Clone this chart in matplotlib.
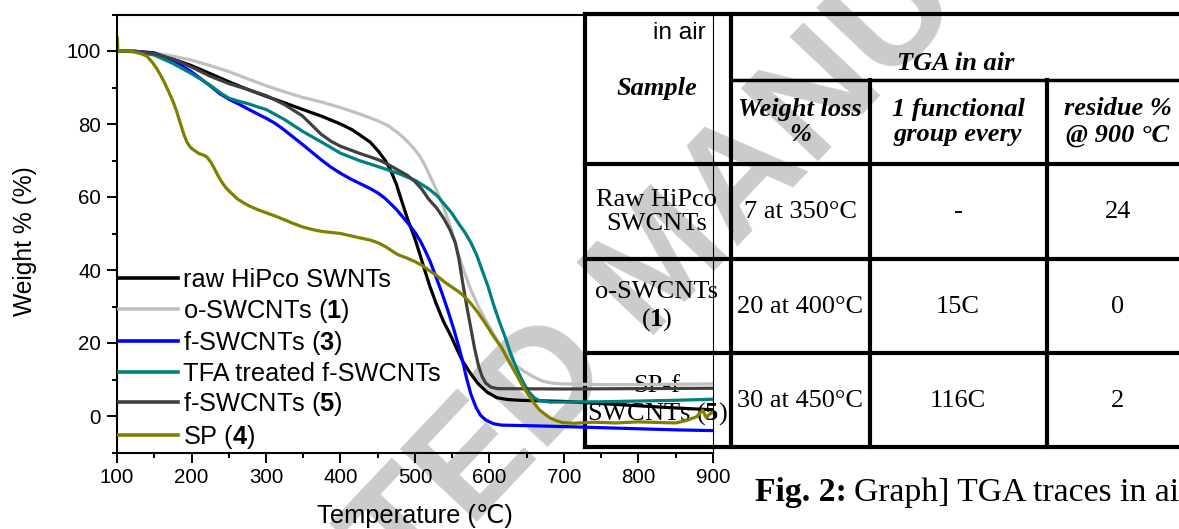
import matplotlib
matplotlib.use('Agg')
import matplotlib.pyplot as plt
from matplotlib.lines import Line2D
from matplotlib.ticker import MultipleLocator

plt.rcParams['mathtext.fontset'] = 'custom'
plt.rcParams['mathtext.rm'] = 'Liberation Sans'
plt.rcParams['mathtext.bf'] = 'Liberation Serif:bold'
plt.rcParams['mathtext.sf'] = 'Liberation Sans:bold'

# ---- TGA traces (temperature in C, weight %) ----
raw_T = [100, 125, 150, 175, 200, 225, 251, 275, 300, 325, 349, 375, 400, 415,
         426, 440, 451, 460, 467, 475, 482, 490, 500, 507, 513, 520, 528, 538,
         549, 557, 564, 575, 585, 597, 610, 625, 641, 700, 750, 800, 850, 900]
raw_W = [100, 99.9, 99.3, 97.8, 96, 93.8, 91.5, 89.5, 87.6, 85.8, 84, 82.1, 80,
         78.5, 77, 75, 72.5, 70, 67.5, 63.5, 59, 54, 48.5, 44, 40, 35.5, 31, 26,
         21.6, 18, 15, 11.5, 8.8, 6.5, 5.0, 4.5, 4.3, 4.0, 3.4, 2.8, 2.2, 1.7]

oxi_T = [100, 125, 150, 175, 200, 225, 251, 275, 300, 325, 349, 375, 400, 425,
         451, 465, 477, 488, 498, 506, 513, 520, 528, 536, 544, 552, 559, 567,
         575, 585, 595, 608, 621, 633, 646, 660, 672, 685, 698, 750, 800, 850, 900]
oxi_W = [100, 99.9, 99.5, 98.6, 97.5, 96, 94.3, 92.4, 90.5, 88.8, 87.3, 86, 84.5,
         82.8, 80.8, 79.4, 77.6, 75.6, 73.4, 71.3, 68.8, 65.8, 62.3, 58.4, 54, 49,
         43.8, 39, 34.5, 30, 26.2, 21.5, 17, 14.2, 12.3, 10.6, 9.5, 9.0, 8.8, 8.6,
         8.6, 8.7, 8.8]

f3_T = [100, 125, 150, 175, 200, 213, 226, 238, 251, 264, 277, 290, 300, 312,
        323, 336, 349, 362, 374, 387, 400, 413, 426, 440, 451, 460, 467, 475,
        482, 491, 500, 507, 513, 520, 528, 536, 544, 552, 559, 564, 569, 575,
        582, 588, 595, 605, 616, 662, 700, 750, 800, 850, 900]
f3_W = [100, 99.9, 99.5, 97.5, 94.3, 92.3, 90.3, 88.3, 86.7, 85.4, 84, 82.6,
        81.6, 80.2, 78.6, 76.5, 74.4, 72.2, 70.2, 68.2, 66.5, 65, 63.7, 62.3, 61,
        59.6, 58.2, 56.6, 54.9, 52.7, 50.3, 48, 45.6, 42.5, 38.2, 33.8, 29, 23.8,
        18.8, 15, 10.5, 6, 2.3, 0.2, -1.1, -2.1, -2.5, -2.7, -2.9, -3.2, -3.5,
        -3.8, -4.0]

tfa_T = [100, 125, 150, 175, 200, 213, 226, 241, 251, 264, 277, 290, 300, 325,
         349, 375, 400, 425, 451, 477, 500, 518, 530, 539, 549, 559, 567, 575,
         583, 590, 598, 605, 613, 621, 628, 636, 644, 652, 660, 667, 682, 750,
         800, 850, 900]
tfa_W = [100, 99.8, 98.9, 96.6, 93.8, 92.2, 90.5, 88.2, 87, 86.2, 85.5, 84.6, 84,
         81.2, 78, 75, 72, 70, 68.3, 66.5, 64.6, 62.3, 60.3, 58.1, 55.7, 52.6,
         50.3, 47.5, 44, 40, 35.5, 30.8, 26, 21.6, 17.3, 13.2, 9.7, 6.8, 5, 4.2,
         3.8, 3.9, 4.1, 4.3, 4.6]

f5_T = [100, 125, 150, 175, 200, 225, 251, 275, 300, 325, 349, 362, 374, 387,
        400, 425, 451, 465, 477, 490, 500, 509, 518, 529, 539, 547, 554, 559,
        564, 570, 575, 580, 585, 590, 595, 602, 611, 700, 800, 900]
f5_W = [100, 99.9, 99.3, 97.8, 95.6, 93.1, 91, 89.5, 87.8, 85.3, 82.2, 79.6,
        77.2, 75.3, 73.9, 72, 70.2, 68.8, 67.4, 65.9, 64.2, 62.2, 59.5, 57, 54,
        51, 47.5, 43, 36.5, 29.5, 24, 18.5, 14, 10.8, 9, 7.9, 7.5, 7.4, 7.5, 7.6]

sp_T = [100, 100.6, 101, 103, 118, 133, 140, 147, 153, 159, 164, 169, 175, 180,
        185, 190, 194, 199, 205, 210, 216, 221, 226, 231, 236, 241, 246, 251,
        257, 262, 270, 277, 288, 300, 312, 323, 336, 349, 362, 374, 387, 400,
        413, 426, 440, 451, 462, 470, 477, 490, 500, 510, 518, 529, 539, 549,
        559, 567, 575, 585, 595, 605, 616, 626, 636, 644, 652, 660, 667, 675,
        682, 690, 698, 713, 740, 770, 800, 830, 850, 865, 878, 886, 891, 896, 900]
sp_W = [103.8, 103.5, 100.2, 100, 100, 99.2, 98.6, 97, 95.3, 93.2, 91.2, 89,
        86.3, 83.5, 80.2, 77, 75, 73.5, 72.6, 71.9, 71.5, 70.9, 69.5, 67.7, 65.7,
        64, 62.6, 61.5, 60.4, 59.4, 58.4, 57.6, 56.6, 55.7, 54.8, 53.9, 52.8,
        51.8, 51.1, 50.6, 50.3, 50, 49.4, 48.8, 48.2, 47.4, 46.2, 45.1, 44.2,
        43.2, 42.3, 41.2, 40, 38.5, 36.8, 35.4, 34, 32.6, 30.8, 28.2, 25.2, 22,
        18.8, 15, 11.4, 8.4, 5.8, 3.5, 1.7, 0.4, -0.6, -1.3, -1.8, -2, -1.7,
        -1.9, -1.6, -1.8, -1.9, -1.2, -0.2, 1.6, -0.4, 0.6, 1.0]

series = [
    (raw_T, raw_W, '#000000', 'raw HiPco SWNTs'),
    (oxi_T, oxi_W, '#c0c0c0', r'o-SWCNTs ($\mathsf{1}$)'),
    (f3_T, f3_W, '#0000ff', r'f-SWCNTs ($\mathsf{3}$)'),
    (tfa_T, tfa_W, '#008080', 'TFA treated f-SWCNTs'),
    (f5_T, f5_W, '#404040', r'f-SWCNTs ($\mathsf{5}$)'),
    (sp_T, sp_W, '#808000', r'SP ($\mathsf{4}$)'),
]

# ---- table contents ----
tab_head = ['Weight loss\n%', '1 functional\ngroup every', 'residue %\n@ 900 \u00b0C']
tab_samples = ['Raw HiPco\nSWCNTs', 'o-SWCNTs\n($\\mathbf{1}$)', 'SP-f\nSWCNTs ($\\mathbf{5}$)']
tab_loss = ['7 at 350\u00b0C', '20 at 400\u00b0C', '30 at 450\u00b0C']
tab_group = ['-', '15C', '116C']
tab_residue = ['24', '0', '2']

W, H = 1179, 529
fig = plt.figure(figsize=(W / 100, H / 100), dpi=100)
fig.patch.set_facecolor('white')


def fx(x):
    return x / W


def fy(y):
    return 1 - y / H


# watermark
fig.text(fx(665), fy(265), 'ACCEPTED MANUSCRIPT', rotation=46.6,
         rotation_mode='anchor', ha='center', va='center', fontsize=111,
         weight='bold', family='Liberation Sans', color='#cbcbcb', zorder=-5)

ax = fig.add_axes([fx(117), fy(452.5), (713 - 117) / W, 438 / H])
ax.set_facecolor('none')

for T, Wt, c, lab in series:
    ax.plot(T, Wt, color=c, lw=2.3, label=lab)

ax.set_xlim(100, 900)
ax.set_ylim(-10, 110)
ax.xaxis.set_major_locator(MultipleLocator(100))
ax.xaxis.set_minor_locator(MultipleLocator(50))
ax.set_yticks([0, 20, 40, 60, 80, 100])
ax.yaxis.set_minor_locator(MultipleLocator(10))

for s in ['left', 'bottom', 'top']:
    ax.spines[s].set_linewidth(1.5)
ax.spines['right'].set_linewidth(0.8)
ax.tick_params(which='major', direction='out', length=7, width=1.4,
               labelsize=14.8, pad=4.5)
ax.tick_params(which='minor', direction='out', length=3.5, width=1.4)
for lbl in ax.get_xticklabels() + ax.get_yticklabels():
    lbl.set_family('Liberation Sans')

ax.set_xlabel('Temperature (\u2103)', fontsize=18.3,
              family=['Liberation Sans', 'DejaVu Sans'])
ax.xaxis.set_label_coords(0.5, (452.5 - 516) / 438)
ax.xaxis.label.set_va('center')
ax.set_ylabel('Weight % (%)', fontsize=17.7, family='Liberation Sans')
ax.yaxis.set_label_coords((25 - 117) / 596, (452.5 - 241.5) / 438)
ax.yaxis.label.set_va('center')

leg = ax.legend(loc='upper left', bbox_to_anchor=(0.0027, (452.5 - 268) / 438),
                frameon=False, prop={'family': 'Liberation Sans', 'size': 18.3},
                handlelength=2.32, handletextpad=0.22, labelspacing=0.18,
                borderpad=0, borderaxespad=0)
for h in leg.get_lines():
    h.set_linewidth(2.6)


# ---- table drawn over the right of the plot ----
def hline(y, x0, x1, lw=3.0):
    fig.add_artist(Line2D([fx(x0), fx(x1)], [fy(y), fy(y)], transform=fig.transFigure,
                          color='k', lw=lw, zorder=-1, solid_capstyle='projecting'))


def vline(x, y0, y1, lw=3.0):
    fig.add_artist(Line2D([fx(x), fx(x)], [fy(y0), fy(y1)], transform=fig.transFigure,
                          color='k', lw=lw, zorder=-1, solid_capstyle='projecting'))


hline(14, 585, 1179)
hline(80, 731, 1179, lw=2.5)
hline(164, 585, 1179)
hline(259, 585, 1179)
hline(353, 585, 1179)
hline(447, 585, 1179)
vline(585, 14, 447)
vline(731, 14, 447)
vline(870, 80, 447)
vline(1047, 80, 447)

serif = 'Liberation Serif'
fig.text(fx(706), fy(33), 'in air', ha='right', va='center', fontsize=17.6,
         family='Liberation Sans', zorder=-1)
fig.text(fx(657), fy(88), 'Sample', ha='center', va='center', fontsize=19,
         family=serif, weight='bold', style='italic', zorder=-1)
fig.text(fx(956), fy(63), 'TGA in air', ha='center', va='center', fontsize=19,
         family=serif, weight='bold', style='italic', zorder=-1)

col_x = [657, 800, 958, 1118]
row_y = [212, 307, 401]
for x, s in zip(col_x[1:], tab_head):
    fig.text(fx(x), fy(122), s, ha='center', va='center', fontsize=19,
             family=serif, weight='bold', style='italic', zorder=-1,
             linespacing=1.15, multialignment='center')
for i, y in enumerate(row_y):
    cells = [tab_samples[i], tab_loss[i], tab_group[i], tab_residue[i]]
    for x, s in zip(col_x, cells):
        fig.text(fx(x), fy(y), s, ha='center', va='center', fontsize=19,
                 family=serif, zorder=-1, linespacing=1.15,
                 multialignment='center')

# caption: bold label followed by plain text
cap = fig.text(fx(755), fy(501), 'Fig. 2:', ha='left', va='baseline',
               fontsize=24.3, family=serif, weight='bold')
bb = cap.get_window_extent(renderer=fig.canvas.get_renderer())
fig.text(fx(bb.x1 + 7), fy(501), 'Graph] TGA traces in air', ha='left',
         va='baseline', fontsize=24.3, family=serif)

fig.savefig('out.png', dpi=100)
